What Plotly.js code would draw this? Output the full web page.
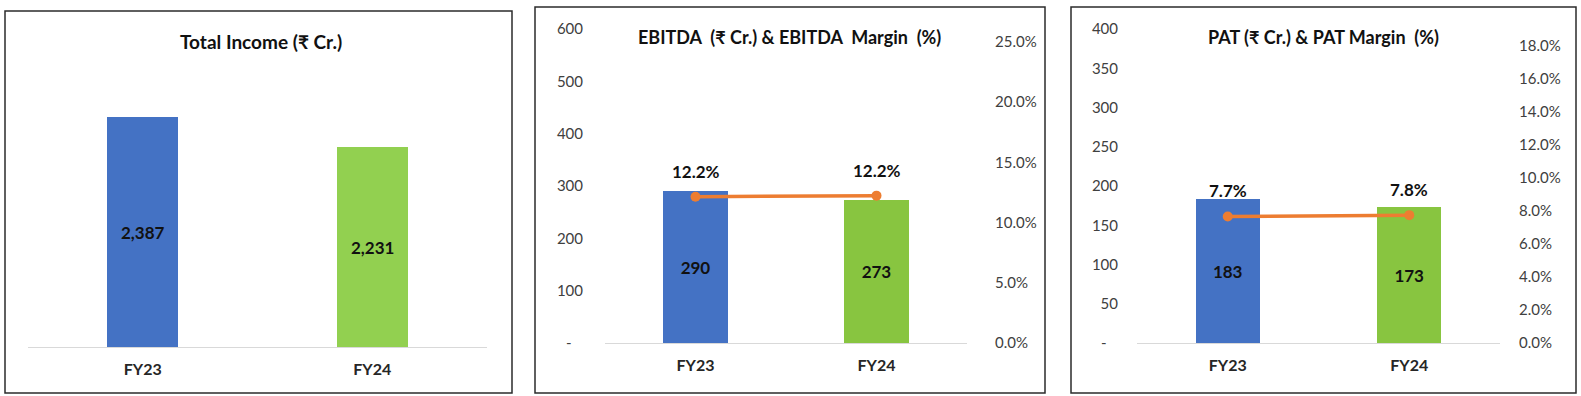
<!DOCTYPE html>
<html>
<head>
<meta charset="utf-8">
<script src="https://cdn.plot.ly/plotly-3.0.1.min.js"></script>
<style>html,body{margin:0;padding:0;background:#fff;}#chart{width:1581px;height:396px;}</style>
</head>
<body>
<div id="chart"></div>
<script>
// ---- data ----
const categories = ['FY23', 'FY24'];
const totalIncome = [2387, 2231];
const ebitda = [290, 273];
const ebitdaMargin = [0.1215, 0.1224];
const pat = [183, 173];
const patMargin = [0.0767, 0.0775];
const ebitdaTicks = [0, 100, 200, 300, 400, 500, 600];
const ebitdaTickText = ['-\u00a0\u00a0\u00a0', '100', '200', '300', '400', '500', '600'];
const patTicks = [0, 50, 100, 150, 200, 250, 300, 350, 400];
const patTickText = ['-\u00a0\u00a0\u00a0', '50', '100', '150', '200', '250', '300', '350', '400'];
const titles = ['Total Income (₹ Cr.)', 'EBITDA  (₹ Cr.) & EBITDA  Margin  (%)', 'PAT (₹ Cr.) & PAT Margin  (%)'];

// ---- styling ----
const W = 1581, H = 396;
const px = x => x / W;
const py = y => 1 - y / H;
const FONT = 'Lato, "Open Sans", "DejaVu Sans", sans-serif';
const BLUE = '#4472C4', GREEN1 = '#92D050', GREEN2 = '#88C540', ORANGE = '#ED7D31';
const tickFont = {family: FONT, size: 15, color: '#404040'};
const catFont = {family: FONT, size: 16, color: '#262626', weight: 700};
const labelFont = {family: FONT, size: 17, color: '#111111', weight: 700};
const titleFont = {family: FONT, size: 18, color: '#111111', weight: 700};
const titleSizes = [19, 18, 18];

const fmt = v => v.toLocaleString('en-US');
const pct = v => (v * 100).toFixed(1) + '%';

const xBase = {type: 'category', range: [-0.5, 1.5], showline: true, linecolor: '#D9D9D9', linewidth: 1,
  ticks: '', showgrid: false, zeroline: false, tickfont: catFont, ticklabelstandoff: 8, fixedrange: true};
const yLeft = {showgrid: false, zeroline: false, showline: false, ticks: '', tickfont: tickFont,
  ticklabelstandoff: 18, fixedrange: true};
const yRight = {showgrid: false, zeroline: false, showline: false, ticks: '', tickfont: tickFont,
  ticklabelstandoff: 18, fixedrange: true, tickformat: '.1%', tick0: 0};

const traces = [
  {type: 'bar', x: categories, y: totalIncome, xaxis: 'x', yaxis: 'y', width: 0.31,
   marker: {color: [BLUE, GREEN1]}, hoverinfo: 'none'},
  {type: 'bar', x: categories, y: ebitda, xaxis: 'x2', yaxis: 'y2', width: 0.355,
   marker: {color: [BLUE, GREEN2]}, text: ebitda.map(fmt), textposition: 'inside',
   insidetextanchor: 'middle', textfont: labelFont, insidetextfont: labelFont, textangle: 0, hoverinfo: 'none'},
  {type: 'scatter', mode: 'lines+markers', x: categories, y: ebitdaMargin, xaxis: 'x2', yaxis: 'y3',
   line: {color: ORANGE, width: 3.5}, marker: {color: ORANGE, size: 10}, hoverinfo: 'none'},
  {type: 'bar', x: categories, y: pat, xaxis: 'x3', yaxis: 'y4', width: 0.35,
   marker: {color: [BLUE, GREEN2]}, text: pat.map(fmt), textposition: 'inside',
   insidetextanchor: 'middle', textfont: labelFont, insidetextfont: labelFont, textangle: 0, hoverinfo: 'none'},
  {type: 'scatter', mode: 'lines+markers', x: categories, y: patMargin, xaxis: 'x3', yaxis: 'y5',
   line: {color: ORANGE, width: 3.5}, marker: {color: ORANGE, size: 10}, hoverinfo: 'none'}
];

const P1MIN = 1200;
const annotations = [];
// panel titles
[[261, 41], [789, 37], [1323, 37]].forEach((p, i) => {
  annotations.push({xref: 'paper', yref: 'paper', x: px(p[0]), y: py(p[1]), text: titles[i],
    showarrow: false, font: Object.assign({}, titleFont, {size: titleSizes[i]}), xanchor: 'center', yanchor: 'middle'});
});
// panel 1 inside labels (axis does not start at zero)
categories.forEach((c, i) => {
  annotations.push({xref: 'x', yref: 'y', x: c, y: (totalIncome[i] + P1MIN) / 2, text: fmt(totalIncome[i]),
    showarrow: false, font: labelFont});
});
// margin labels
categories.forEach((c, i) => {
  annotations.push({xref: 'x2', yref: 'y3', x: c, y: ebitdaMargin[i], yshift: 25, text: pct(ebitdaMargin[i]),
    showarrow: false, font: labelFont});
  annotations.push({xref: 'x3', yref: 'y5', x: c, y: patMargin[i], yshift: 26, text: pct(patMargin[i]),
    showarrow: false, font: labelFont});
});

const box = (x0, y0, x1, y1) => ({type: 'rect', xref: 'paper', yref: 'paper', x0: px(x0), x1: px(x1),
  y0: py(y1), y1: py(y0), line: {color: '#2b2b2b', width: 1.5}, fillcolor: 'rgba(0,0,0,0)', layer: 'below'});

const layout = {
  width: W, height: H, margin: {l: 0, r: 0, t: 0, b: 0}, paper_bgcolor: '#ffffff', plot_bgcolor: 'rgba(0,0,0,0)',
  showlegend: false, font: {family: FONT}, bargap: 0,
  xaxis: Object.assign({}, xBase, {domain: [px(28), px(487)], anchor: 'y'}),
  yaxis: {domain: [py(347), py(37)], anchor: 'x', range: [P1MIN, 2800], visible: false, fixedrange: true},
  xaxis2: Object.assign({}, xBase, {domain: [px(605), px(967)], anchor: 'y2'}),
  yaxis2: Object.assign({}, yLeft, {domain: [py(343), py(29)], anchor: 'x2', range: [0, 600],
    tickvals: ebitdaTicks, ticktext: ebitdaTickText, ticklabelstandoff: 21}),
  yaxis3: Object.assign({}, yRight, {overlaying: 'y2', side: 'right', anchor: 'x2',
    range: [0, 0.25 * 314 / 301], dtick: 0.05, ticklabelstandoff: 27}),
  xaxis3: Object.assign({}, xBase, {domain: [px(1137), px(1500)], anchor: 'y4'}),
  yaxis4: Object.assign({}, yLeft, {domain: [py(343), py(29)], anchor: 'x3', range: [0, 400],
    tickvals: patTicks, ticktext: patTickText}),
  yaxis5: Object.assign({}, yRight, {overlaying: 'y4', side: 'right', anchor: 'x3',
    range: [0, 0.18 * 314 / 297], dtick: 0.02}),
  annotations: annotations,
  shapes: [box(5, 11, 512, 393), box(535, 7, 1045, 393), box(1071, 7, 1576, 393)]
};

Plotly.newPlot('chart', traces, layout, {displayModeBar: false, staticPlot: true});
</script>
</body>
</html>
